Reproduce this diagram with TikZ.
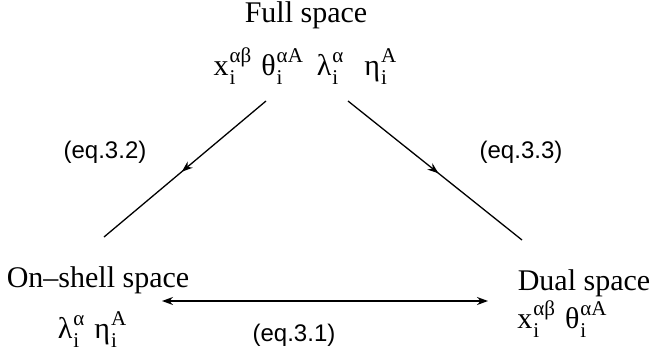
\documentclass[tikz,border=0pt]{standalone}
\usepackage{fontspec}
\setmainfont{Liberation Serif}
\newfontfamily\eqfont{Liberation Sans}
\usetikzlibrary{arrows.meta,decorations.markings}

\newcommand{\scr}{\fontsize{21}{21}\selectfont}
\newcommand{\fld}[3]{#1\hspace{1pt}\makebox[0pt][l]{\raisebox{-0.33em}{\scr #2}}\raisebox{0.42em}{\scr #3}}

\tikzset{
  spacename/.style={anchor=base,inner sep=0pt,font=\fontsize{30}{36}\selectfont},
  fieldrow/.style={anchor=base,inner sep=0pt,font=\fontsize{30}{36}\selectfont},
  eqlabel/.style={inner sep=0pt,font=\eqfont\fontsize{24}{28}\selectfont},
  maplink/.style={line width=1.3pt,decoration={markings,
      mark=at position 0.52 with {\arrow{Stealth[length=11pt,width=8pt]}}},postaction={decorate}},
  duallink/.style={line width=1.3pt,{Stealth[length=11pt,width=8pt]}-{Stealth[length=11pt,width=8pt]}}
}

\begin{document}
\begin{tikzpicture}[x=1pt,y=-1pt]
  \useasboundingbox (0,0) rectangle (656,356);
  \node[spacename] (full) at (306,22) {Full space};
  \node[fieldrow] (fullvars) at (305,75) {\fld{x}{i}{αβ}\hspace{10pt}\fld{θ}{i}{αA}\hspace{14pt}\fld{λ}{i}{α}\hspace{21pt}\fld{η}{i}{A}};
  \node[spacename] (onshell) at (98,287) {On–shell space};
  \node[fieldrow] (onvars) at (92,338) {\fld{λ}{i}{α}\hspace{10pt}\fld{η}{i}{A}};
  \node[spacename] (dual) at (584,290) {Dual space};
  \node[fieldrow] (dualvars) at (562,328) {\fld{x}{i}{αβ}\hspace{10pt}\fld{θ}{i}{αA}};
  \node[eqlabel] (eqtwo) at (105,152) {(eq.3.2)};
  \node[eqlabel] (eqthree) at (521,152) {(eq.3.3)};
  \node[eqlabel] (eqone) at (294,335) {(eq.3.1)};
  \coordinate (fullL) at (266,101);
  \coordinate (fullR) at (348,101);
  \coordinate (onshellT) at (104,237);
  \coordinate (dualT) at (522,240);
  \coordinate (onshellR) at (162,301);
  \coordinate (dualL) at (488,301);
  \draw[maplink] (fullL) -- (onshellT);
  \draw[maplink] (fullR) -- (dualT);
  \draw[duallink] (onshellR) -- (dualL);
\end{tikzpicture}
\end{document}
